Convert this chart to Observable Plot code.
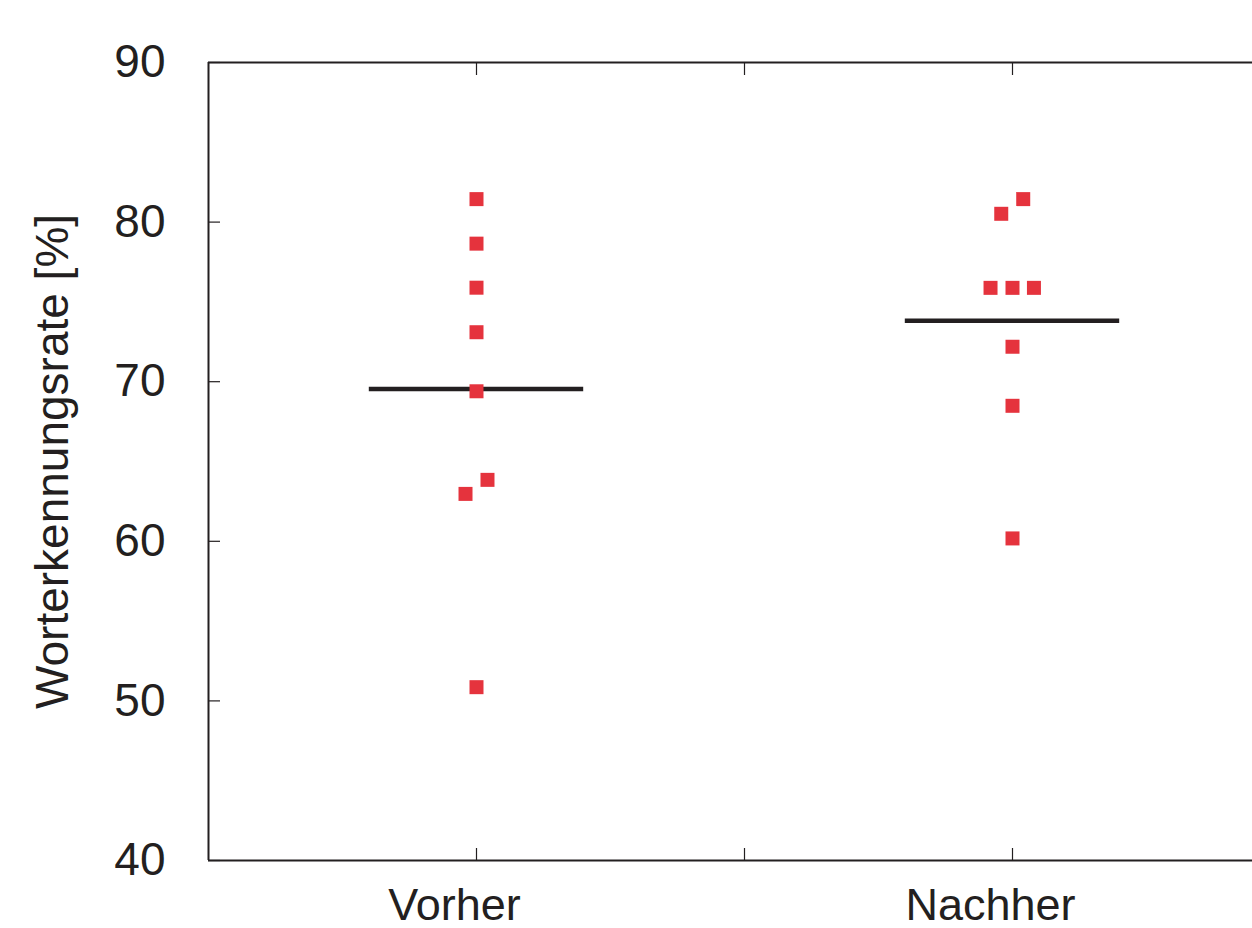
<!DOCTYPE html>
<html>
<head>
<meta charset="utf-8">
<script src="https://cdn.jsdelivr.net/npm/d3@7"></script>
<script src="https://cdn.jsdelivr.net/npm/@observablehq/plot@0.6"></script>
<style>
  html, body { margin: 0; padding: 0; background: white; overflow: hidden; }
  #chart svg { display: block; }
</style>
</head>
<body>
<div id="chart"></div>
<script>
// ---- data ----
const groups = ["Vorher", "Nachher"];
const groupPositions = [1, 3];
const vorherValues  = [81.44, 78.65, 75.89, 73.10, 69.40, 63.85, 62.97, 50.86];
const vorherOffsets = [0, 0, 0, 0, 0, 0.041, -0.041, 0];
const nachherValues  = [81.44, 80.52, 75.88, 75.88, 75.88, 72.19, 68.49, 60.18];
const nachherOffsets = [0.04, -0.042, -0.082, 0, 0.08, 0, 0, 0];
const groupMeans = [69.55, 73.82];
const yTicks = [40, 50, 60, 70, 80, 90];
const xTicks = [1, 2, 3];
const yLabel = "Worterkennungsrate [%]";

// ---- build tables ----
const points = [
  ...vorherValues.map((v, i) => ({group: groups[0], x: groupPositions[0] + vorherOffsets[i], y: v})),
  ...nachherValues.map((v, i) => ({group: groups[1], x: groupPositions[1] + nachherOffsets[i], y: v}))
];
const meanRows = groups.map((g, i) => ({group: g, x: groupPositions[i], y: groupMeans[i]}));
const halfWidth = 0.4;

const ink = "#231f20";
const red = "#e5333d";
const font = "'Liberation Sans', Arial, Helvetica, sans-serif";

const W = 1252, H = 928;
const mL = 208, mT = 62, mB = 68, mR = 0;
const pxPerUnit = 268;
const xDomain = [0, (W - mL - mR) / pxPerUnit];
const yDomain = [40, 90];

const chart = Plot.plot({
  width: W,
  height: H,
  marginLeft: mL,
  marginTop: mT,
  marginBottom: mB,
  marginRight: mR,
  style: {fontFamily: font, color: ink, background: "white", overflow: "visible"},
  x: {domain: xDomain},
  y: {domain: yDomain},
  marks: [
    // frame: top, bottom, left
    Plot.ruleY(yDomain, {stroke: ink, strokeWidth: 2}),
    Plot.ruleX([xDomain[0]], {stroke: ink, strokeWidth: 2}),
    // inward ticks
    Plot.axisY({ticks: yTicks, tickSize: -12, tickFormat: () => "", stroke: ink, strokeWidth: 1.2, label: null}),
    Plot.axisX({anchor: "bottom", ticks: xTicks, tickSize: -12, tickFormat: () => "", stroke: ink, strokeWidth: 1.2, label: null}),
    Plot.axisX({anchor: "top", ticks: xTicks, tickSize: -12, tickFormat: () => "", stroke: ink, strokeWidth: 1.2, label: null}),
    // tick labels
    Plot.axisY({ticks: yTicks, tickSize: 0, tickPadding: 43, fontSize: 46, fill: ink, label: null}),
    Plot.axisX({anchor: "bottom", ticks: groupPositions, tickSize: 0, tickPadding: 28, fontSize: 45, fill: ink, dx: -22,
      tickFormat: d => groups[groupPositions.indexOf(d)], label: null}),
    // y label
    Plot.text([yLabel], {text: d => d, frameAnchor: "left", rotate: -90, dx: -155, lineAnchor: "middle",
      textAnchor: "middle", fontSize: 46, fill: ink}),
    // means
    Plot.ruleY(meanRows, {y: "y", x1: d => d.x - halfWidth, x2: d => d.x + halfWidth, stroke: ink, strokeWidth: 4.5}),
    // points
    Plot.dot(points, {x: "x", y: "y", symbol: "square", r: 7.9, fill: red, stroke: null})
  ]
});
document.getElementById("chart").appendChild(chart);
</script>
</body>
</html>
